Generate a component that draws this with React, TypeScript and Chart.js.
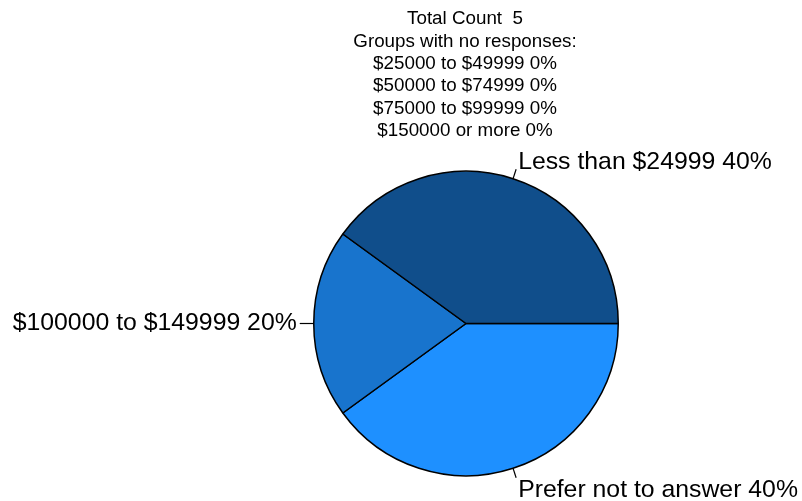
import React, { useEffect, useRef } from "react";
import { Chart, registerables } from "chart.js";

Chart.register(...registerables);

const categories = ["Prefer not to answer", "$100000 to $149999", "Less than $24999"];
const counts = [2, 1, 2];
const colors = ["#1E90FF", "#1874CD", "#104E8B"];
const emptyGroups = ["$25000 to $49999", "$50000 to $74999", "$75000 to $99999", "$150000 or more"];

const FONT = '"Liberation Sans", Arial, sans-serif';

const labelPlugin = {
  id: "pieLabels",
  afterDraw(chart: any) {
    const ctx = chart.ctx;
    const total = counts.reduce((a, b) => a + b, 0);
    const titleLines = [
      "Total Count  " + total,
      "Groups with no responses:",
      ...emptyGroups.map((g) => g + " 0%"),
    ];
    ctx.save();
    ctx.fillStyle = "#000";
    ctx.font = "18.8px " + FONT;
    ctx.textAlign = "center";
    ctx.textBaseline = "middle";
    titleLines.forEach((t, i) => ctx.fillText(t, 465, 19 + i * 22.4));

    const meta = chart.getDatasetMeta(0);
    ctx.font = "24.8px " + FONT;
    meta.data.forEach((arc: any, i: number) => {
      const { x, y, startAngle, endAngle, outerRadius } = arc.getProps(
        ["x", "y", "startAngle", "endAngle", "outerRadius"],
        true
      );
      const mid = (startAngle + endAngle) / 2;
      const c = Math.cos(mid);
      const s = Math.sin(mid);
      const p1x = x + outerRadius * c;
      const p1y = y + outerRadius * s;
      const ext = Math.abs(s) > 0.5 ? 10 : 14;
      const p2x = x + (outerRadius + ext) * c;
      const p2y = y + (outerRadius + ext) * s;
      ctx.strokeStyle = "#000";
      ctx.lineWidth = 1.2;
      ctx.beginPath();
      ctx.moveTo(p1x, p1y);
      ctx.lineTo(p2x, p2y);
      ctx.stroke();
      const pct = Math.round((counts[i] / total) * 100);
      const text = categories[i] + " " + pct + "%";
      let tx = p2x;
      if (c > 0.1) {
        ctx.textAlign = "left";
        tx = p2x + 2;
      } else if (c < -0.1) {
        ctx.textAlign = "right";
        tx = p2x - 3;
      } else ctx.textAlign = "center";
      if (s < -0.5) ctx.textBaseline = "alphabetic";
      else if (s > 0.5) ctx.textBaseline = "top";
      else ctx.textBaseline = "middle";
      ctx.fillText(text, tx, p2y);
    });
    ctx.restore();
  },
};

export default function App() {
  const ref = useRef<HTMLCanvasElement>(null);
  useEffect(() => {
    if (!ref.current) return;
    const chart = new Chart(ref.current, {
      type: "pie",
      data: {
        labels: categories,
        datasets: [
          {
            data: counts,
            backgroundColor: colors,
            borderColor: "#000",
            borderWidth: 1.5,
          },
        ],
      },
      options: {
        responsive: false,
        animation: false,
        rotation: 90,
        layout: { padding: { left: 313, right: 183, top: 170, bottom: 24 } },
        plugins: {
          legend: { display: false },
          tooltip: { enabled: false },
          title: { display: false },
        },
      },
      plugins: [labelPlugin],
    });
    return () => chart.destroy();
  }, []);
  return (
    <div style={{ position: "fixed", left: 0, top: 0, width: 802, height: 501, background: "#fff" }}>
      <canvas ref={ref} width={802} height={501} style={{ width: 802, height: 501 }} />
    </div>
  );
}
